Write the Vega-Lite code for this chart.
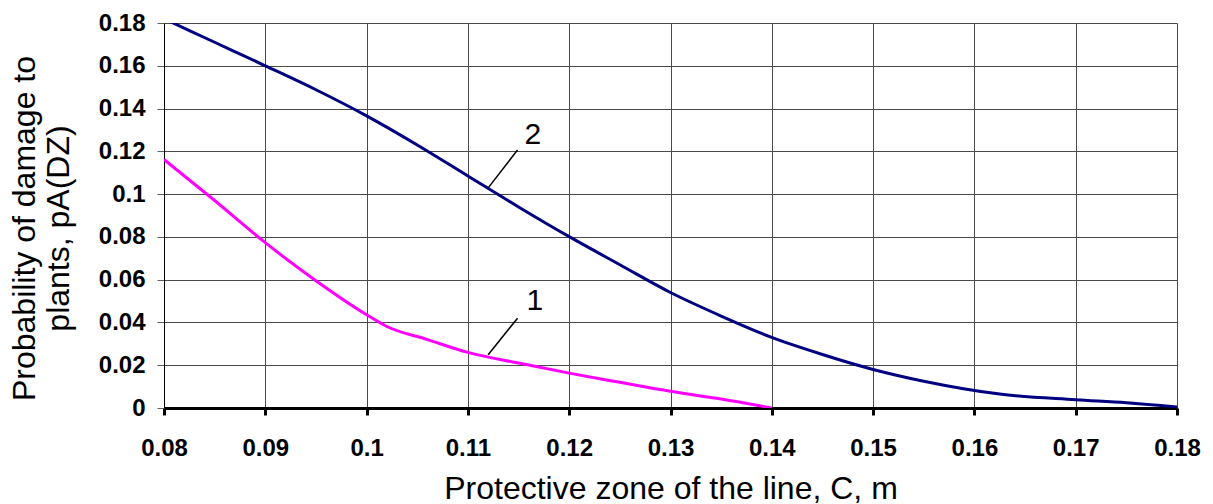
{
  "$schema": "https://vega.github.io/schema/vega-lite/v6.json",
  "width": 1013,
  "height": 385,
  "autosize": {"type": "none"},
  "padding": {"left": 164, "top": 23, "right": 36, "bottom": 96},
  "background": "white",
  "config": {
    "view": {"stroke": null},
    "font": "Liberation Sans",
    "axis": {"gridColor": "#4a4a4a", "gridWidth": 1, "gridOpacity": 1}
  },
  "datasets": {
    "curves": [
      {"c": 0.08, "p": 0.182, "s": "2"},
      {"c": 0.085, "p": 0.171, "s": "2"},
      {"c": 0.09, "p": 0.16, "s": "2"},
      {"c": 0.095, "p": 0.1488, "s": "2"},
      {"c": 0.1, "p": 0.1366, "s": "2"},
      {"c": 0.105, "p": 0.123, "s": "2"},
      {"c": 0.11, "p": 0.1085, "s": "2"},
      {"c": 0.115, "p": 0.094, "s": "2"},
      {"c": 0.12, "p": 0.0801, "s": "2"},
      {"c": 0.125, "p": 0.067, "s": "2"},
      {"c": 0.13, "p": 0.054, "s": "2"},
      {"c": 0.135, "p": 0.043, "s": "2"},
      {"c": 0.14, "p": 0.033, "s": "2"},
      {"c": 0.145, "p": 0.025, "s": "2"},
      {"c": 0.15, "p": 0.018, "s": "2"},
      {"c": 0.155, "p": 0.0125, "s": "2"},
      {"c": 0.1625, "p": 0.0065, "s": "2"},
      {"c": 0.17, "p": 0.0039, "s": "2"},
      {"c": 0.175, "p": 0.0025, "s": "2"},
      {"c": 0.18, "p": 0.0005, "s": "2"},
      {"c": 0.08, "p": 0.1162, "s": "1"},
      {"c": 0.085, "p": 0.097, "s": "1"},
      {"c": 0.09, "p": 0.0773, "s": "1"},
      {"c": 0.095, "p": 0.0595, "s": "1"},
      {"c": 0.1, "p": 0.0436, "s": "1"},
      {"c": 0.102, "p": 0.0381, "s": "1"},
      {"c": 0.106, "p": 0.032, "s": "1"},
      {"c": 0.11, "p": 0.026, "s": "1"},
      {"c": 0.115, "p": 0.021, "s": "1"},
      {"c": 0.12, "p": 0.0163, "s": "1"},
      {"c": 0.125, "p": 0.012, "s": "1"},
      {"c": 0.13, "p": 0.0078, "s": "1"},
      {"c": 0.135, "p": 0.0042, "s": "1"},
      {"c": 0.14, "p": 0.0, "s": "1"}
    ],
    "labels": [
      {"c": 0.1164, "p": 0.1276, "t": "2", "c0": 0.1149, "p0": 0.1206, "c1": 0.112, "p1": 0.1029},
      {"c": 0.1166, "p": 0.0498, "t": "1", "c0": 0.1149, "p0": 0.042, "c1": 0.112, "p1": 0.0249}
    ]
  },
  "layer": [
    {
      "data": {"name": "curves"},
      "mark": {"type": "line", "strokeWidth": 3, "interpolate": "monotone", "clip": true},
      "encoding": {
        "x": {
          "field": "c", "type": "quantitative",
          "scale": {"domain": [0.08, 0.18], "nice": false, "zero": false},
          "axis": {
            "values": [0.08, 0.09, 0.1, 0.11, 0.12, 0.13, 0.14, 0.15, 0.16, 0.17, 0.18],
            "format": "~g",
            "title": ["Protective zone of the line, C, m"],
            "titleFont": "Liberation Sans", "titleFontSize": 32, "titleFontWeight": "normal", "titleColor": "black",
            "titlePadding": 13,
            "labelFont": "Liberation Sans", "labelFontSize": 24, "labelFontWeight": "bold", "labelColor": "black",
            "labelPadding": 21, "labelFlush": false,
            "tickSize": 7, "tickWidth": 3, "tickColor": "black",
            "domainColor": "black", "domainWidth": 3,
            "grid": true
          }
        },
        "y": {
          "field": "p", "type": "quantitative",
          "scale": {"domain": [0, 0.18], "nice": false},
          "axis": {
            "values": [0, 0.02, 0.04, 0.06, 0.08, 0.1, 0.12, 0.14, 0.16, 0.18],
            "format": "~g",
            "title": ["Probability of damage to", "plants, pA(DZ)"],
            "titleFont": "Liberation Sans", "titleFontSize": 32, "titleFontWeight": "normal", "titleColor": "black",
            "titleLineHeight": 34,
            "titleAngle": -90, "titleAlign": "center", "titleBaseline": "middle",
            "titleX": -140, "titleY": 205,
            "labelFont": "Liberation Sans", "labelFontSize": 24, "labelFontWeight": "bold", "labelColor": "black",
            "labelPadding": 12, "labelFlush": false,
            "tickSize": 7, "tickWidth": 1, "tickColor": "#606060",
            "domainColor": "black", "domainWidth": 1,
            "grid": true
          }
        },
        "color": {
          "field": "s", "type": "nominal",
          "scale": {"domain": ["1", "2"], "range": ["#FF00FF", "#000080"]},
          "legend": null
        }
      }
    },
    {
      "data": {"name": "labels"},
      "mark": {"type": "rule", "color": "black", "strokeWidth": 1.5},
      "encoding": {
        "x": {"field": "c0", "type": "quantitative"},
        "y": {"field": "p0", "type": "quantitative"},
        "x2": {"field": "c1"},
        "y2": {"field": "p1"}
      }
    },
    {
      "data": {"name": "labels"},
      "mark": {"type": "text", "fontSize": 30, "font": "Liberation Sans", "color": "black", "align": "center", "baseline": "middle"},
      "encoding": {
        "x": {"field": "c", "type": "quantitative"},
        "y": {"field": "p", "type": "quantitative"},
        "text": {"field": "t"}
      }
    }
  ]
}
